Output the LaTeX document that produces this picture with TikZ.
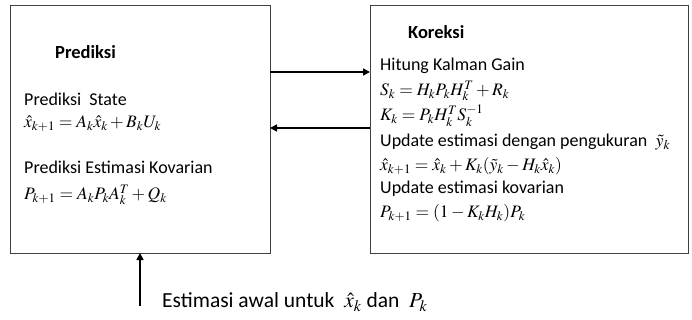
\documentclass[tikz,border=0pt]{standalone}
\usepackage{mathptmx}
\usepackage{fontspec}
\setmainfont{Carlito}
\usetikzlibrary{arrows.meta}
\tikzset{
  box/.style={draw=black!75, line width=1pt},
  txt/.style={anchor=west, inner sep=0pt, font=\fontsize{18}{21}\selectfont},
  eq/.style={anchor=west, inner sep=0pt, font=\fontsize{17.5}{20}\selectfont},
  head/.style={anchor=west, inner sep=0pt, font=\fontsize{18.5}{21}\selectfont\bfseries},
  arr/.style={line width=1.6pt, -{Triangle[length=7pt,width=7pt]}}
}
\begin{document}
\begin{tikzpicture}[x=1pt,y=-1pt]
\useasboundingbox (0,0) rectangle (692,320);
\draw[box] (10,6) rectangle (270,253);
\draw[box] (370,6) rectangle (688,253);
\coordinate (lr1) at (270,72); \coordinate (rl1) at (370,72);
\coordinate (lr2) at (270,128); \coordinate (rl2) at (370,128);
\coordinate (b1) at (140,306); \coordinate (b2) at (140,253);
\draw[arr] (lr1) -- (rl1);
\draw[arr] (rl2) -- (lr2);
\draw[arr] (b1) -- (b2);
\node[head] (h1) at (55,52) {Prediksi};
\node[txt] (t1) at (24,99) {Prediksi\ \ State};
\node[eq] (e1) at (24,124) {$\hat{x}_{k+1} = A_k\hat{x}_k + B_kU_k$};
\node[txt] (t2) at (24,167) {Prediksi Estimasi Kovarian};
\node[eq] (e2) at (24,195) {$P_{k+1} = A_kP_kA_k^T + Q_k$};
\node[head] (h2) at (408,32) {Koreksi};
\node[txt] (t3) at (380,66) {Hitung Kalman Gain};
\node[eq] (e3) at (380,91) {$S_k = H_kP_kH_k^T + R_k$};
\node[eq] (e4) at (380,116) {$K_k = P_kH_k^TS_k^{-1}$};
\node[txt] (t4) at (380,142) {Update estimasi dengan pengukuran\ \ $\tilde{y}_k$};
\node[eq] (e5) at (380,166) {$\hat{x}_{k+1} = \hat{x}_k + K_k(\tilde{y}_k - H_k\hat{x}_k)$};
\node[txt] (t5) at (380,189) {Update estimasi kovarian};
\node[eq] (e6) at (380,213) {$P_{k+1} = (1 - K_kH_k)P_k$};
\node[txt, font=\fontsize{21.5}{24}\selectfont] (t6) at (162,302) {Estimasi awal untuk\ \ $\hat{x}_k$ dan\ \ $P_k$};
\end{tikzpicture}
\end{document}
